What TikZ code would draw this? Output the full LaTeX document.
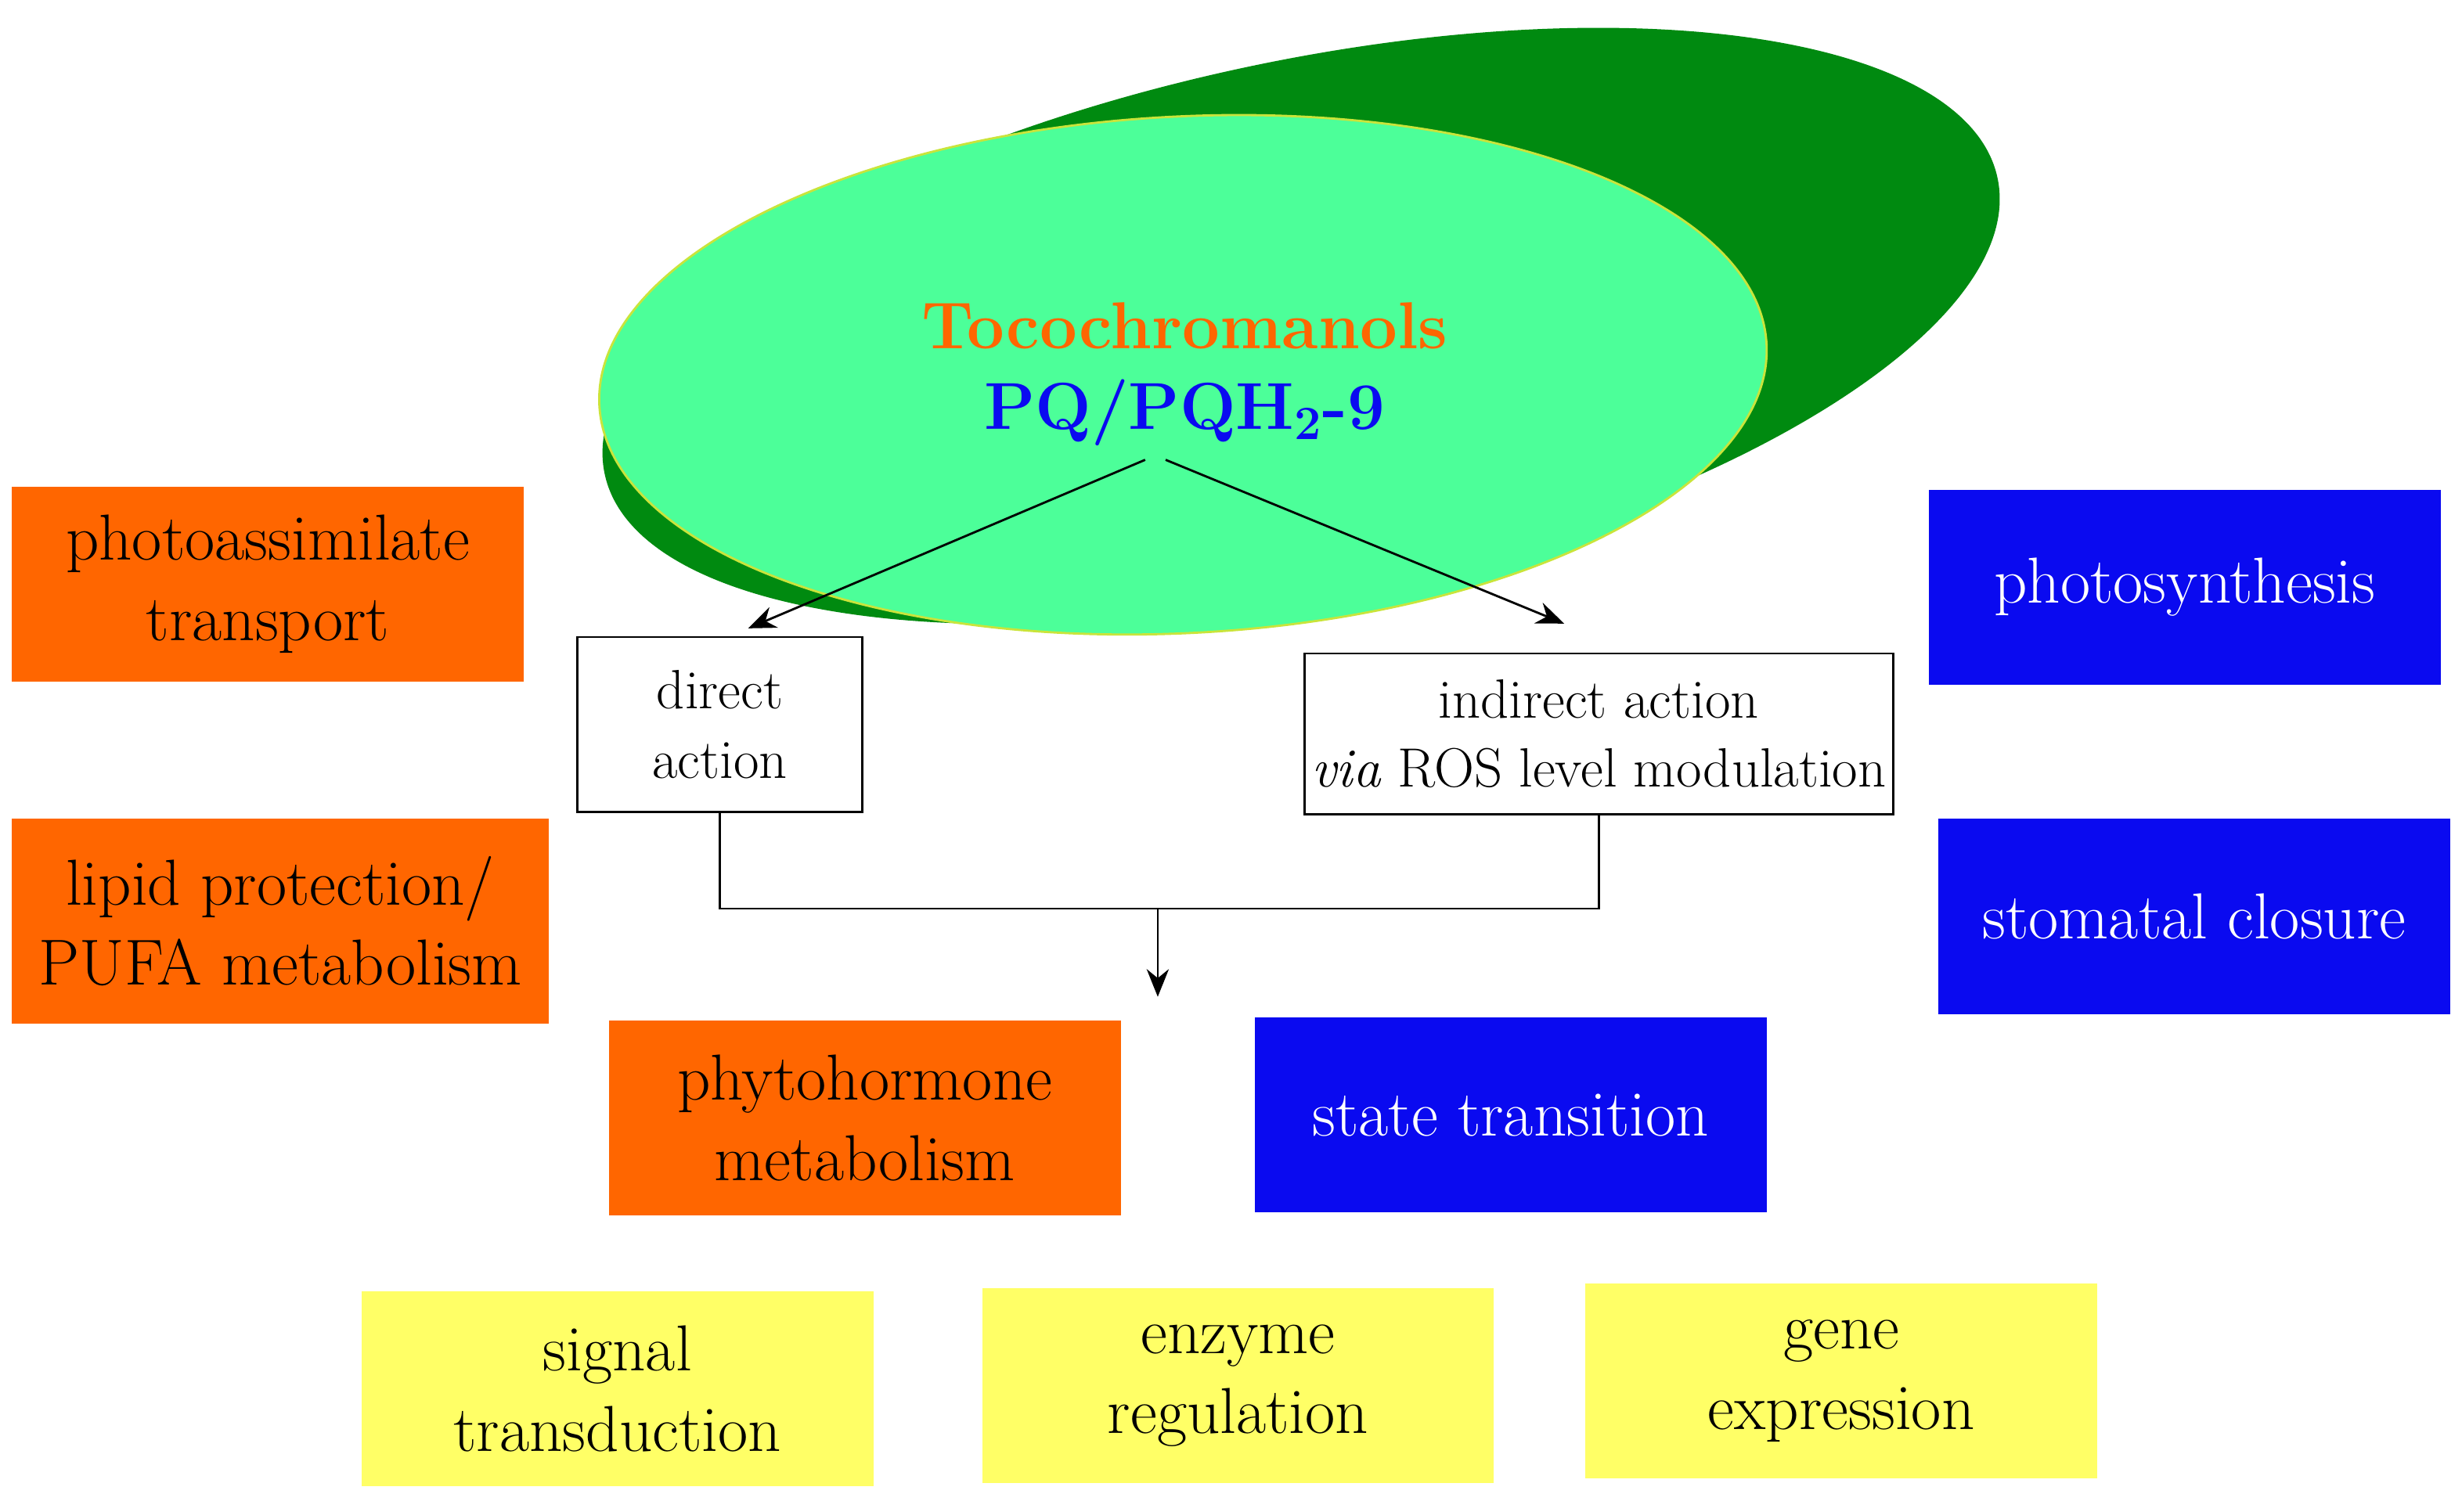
\documentclass[tikz,border=0pt]{standalone}
\usepackage{tikz}
\usetikzlibrary{arrows.meta}
\definecolor{og}{HTML}{FF6600}
\definecolor{bl}{HTML}{0A0AF0}
\definecolor{yl}{HTML}{FFFF66}
\definecolor{dg}{HTML}{008A10}
\definecolor{lg}{HTML}{4CFF99}
\begin{document}
\begin{tikzpicture}[x=0.02cm,y=-0.02cm,
  box/.style={draw=none,minimum width=6.5cm,minimum height=2.48cm,align=center,font=\fontsize{23.5}{29}\selectfont},
  obox/.style={box,fill=og,text=black},
  bbox/.style={box,fill=bl,text=white},
  ybox/.style={box,fill=yl,text=black},
  wbox/.style={draw,thick,fill=white,align=center,font=\fontsize{20}{25}\selectfont},
  arr/.style={thick,-{Stealth[length=10pt,width=8pt]}}]
\useasboundingbox (0,0) rectangle (1563,960);
\fill[dg] (826,207) ellipse[x radius=452,y radius=168,rotate=12];
\draw[yellow!70!lg,fill=lg,thick] (751,238) ellipse[x radius=371,y radius=164,rotate=3];
\node[font=\fontsize{24}{28}\selectfont\bfseries,text=og] (t) at (752,207) {Tocochromanols};
\node[font=\fontsize{24}{28}\selectfont\bfseries,text=bl] (p) at (752,262) {PQ/PQH$_\mathbf{2}$-9};
\coordinate (a1) at (727,292);
\coordinate (a2) at (740,292);
\node[wbox,minimum width=3.62cm,minimum height=2.22cm] (d) at (457,460) {direct\\action};
\node[wbox,minimum width=7.48cm,minimum height=2.04cm,inner xsep=2pt] (i) at (1015,466) {indirect action\\\textit{via} ROS level modulation};
\coordinate (e1) at (475,399);
\coordinate (e2) at (993,396);
\draw[arr] (a1) -- (e1);
\draw[arr] (a2) -- (e2);
\coordinate (m) at (735,577);
\coordinate (mt) at (735,633);
\draw[thick] (d.south) |- (m) -| (i.south);
\draw[arr] (m) -- (mt);
\node[obox] (pa) at (170,371) {photoassimilate\\transport};
\node[obox,minimum width=6.82cm,minimum height=2.6cm] (lp) at (178,585) {lipid protection/\\PUFA metabolism};
\node[obox] (ph) at (549,710) {phytohormone\\metabolism};
\node[bbox] (ps) at (1387,373) {photosynthesis};
\node[bbox] (sc) at (1393,582) {stomatal closure};
\node[bbox] (st) at (959,708) {state transition};
\node[ybox] (sg) at (392,882) {signal\\transduction};
\node[ybox] (en) at (786,880) {enzyme\\regulation};
\node[ybox] (ge) at (1169,877) {gene\\expression};
\end{tikzpicture}
\end{document}
